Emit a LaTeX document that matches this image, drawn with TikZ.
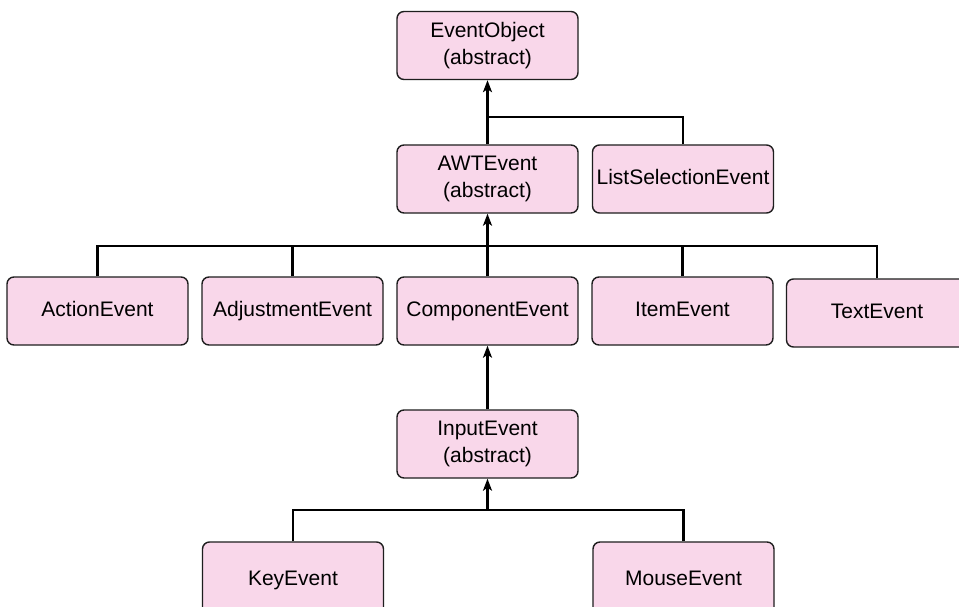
\documentclass[tikz,border=0pt]{standalone}
\usepackage{fontspec}
\setmainfont{Liberation Sans}
\usetikzlibrary{arrows.meta}
\definecolor{boxfill}{RGB}{249,215,234}
\definecolor{boxline}{RGB}{30,30,30}
\tikzset{
  cls/.style={draw=boxline, line width=1.4pt, fill=boxfill, rounded corners=7pt,
    minimum width=181pt, minimum height=68pt, inner sep=0pt, align=center,
    font=\fontsize{21}{27.5}\selectfont},
  one/.style={cls, text height=15pt, text depth=4.4pt},
  link/.style={line width=2.8pt, draw=black},
  inherit/.style={link, -{Stealth[length=12pt,width=9pt,inset=3pt]}}
}
\begin{document}
\begin{tikzpicture}[x=1pt,y=-1pt]
\clip (0,0) rectangle (959,607);
\fill[white] (0,0) rectangle (959,607);
% nodes
\node[cls] (eo) at (487.5,45.5) {EventObject\\(abstract)};
\node[cls] (awt) at (487.5,179) {AWTEvent\\(abstract)};
\node[one] (lse) at (683,179) {ListSelectionEvent};
\node[one] (action) at (97.5,311) {ActionEvent};
\node[one] (adjust) at (292.5,311) {AdjustmentEvent};
\node[one] (comp) at (487.5,311) {ComponentEvent};
\node[one] (item) at (682.5,311) {ItemEvent};
\node[one] (text) at (877,313) {TextEvent};
\node[cls] (input) at (487.5,444) {InputEvent\\(abstract)};
\node[one, minimum height=76pt] (key) at (293,580) {KeyEvent};
\node[one, minimum height=76pt] (mouse) at (683.5,580) {MouseEvent};
% junctions
\coordinate (j1) at (487.5,117);
\coordinate (j2) at (487.5,246);
\coordinate (j3) at (487.5,510);
% connectors
\draw[inherit] (awt.north) -- (eo.south);
\draw[link] (lse.north) |- (j1);
\draw[inherit] (comp.north) -- (awt.south);
\draw[link] (action.north) |- (j2);
\draw[link] (adjust.north) |- (j2);
\draw[link] (item.north) |- (j2);
\draw[link] (text.north) |- (j2);
\draw[inherit] (input.north) -- (comp.south);
\draw[link] (key.north) |- (j3);
\draw[link] (mouse.north) |- (j3);
\draw[inherit] (j3) -- (input.south);
\end{tikzpicture}
\end{document}
